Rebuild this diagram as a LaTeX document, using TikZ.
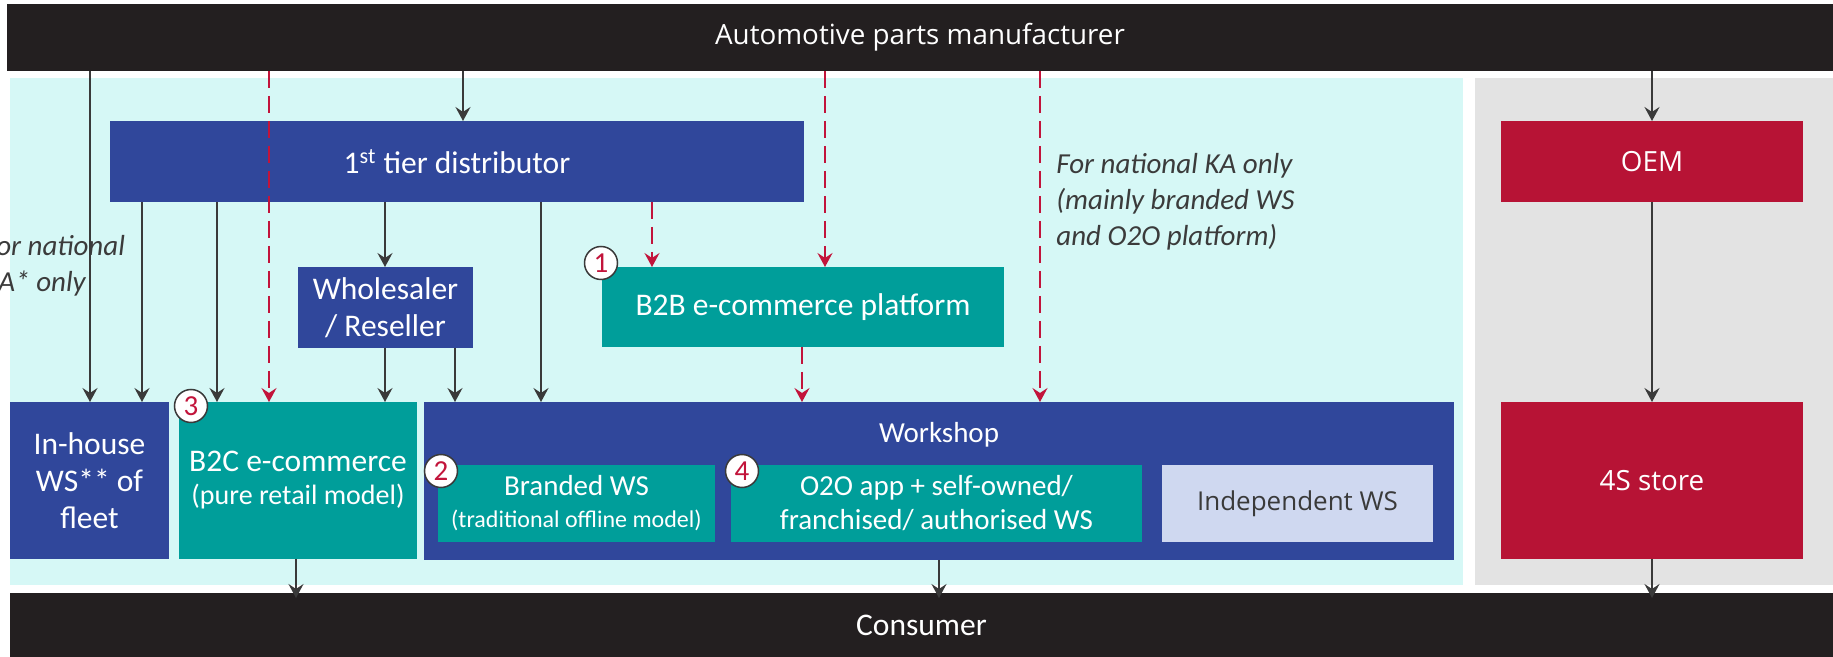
\documentclass[tikz,border=0pt]{standalone}
\usepackage{fontspec}
\setmainfont{Carlito}
\newfontfamily\segoe{Open Sans}
\usetikzlibrary{arrows.meta}
\definecolor{barblack}{HTML}{231F20}
\definecolor{cyanbg}{HTML}{D6F8F6}
\definecolor{greybg}{HTML}{E3E3E3}
\definecolor{boxblue}{HTML}{30479B}
\definecolor{boxteal}{HTML}{009E9A}
\definecolor{boxred}{HTML}{B71335}
\definecolor{boxlav}{HTML}{CFD8F0}
\definecolor{arrgrey}{HTML}{3A3A3A}
\definecolor{dashred}{HTML}{C2143B}
\definecolor{notegrey}{HTML}{3B3B3B}
\newcommand\fbig{\fontsize{15.75pt}{18.5pt}\selectfont}
\newcommand\fmid{\fontsize{14.5pt}{17pt}\selectfont}
\newcommand\fsmall{\fontsize{12pt}{14pt}\selectfont}
\newcommand\fseg{\segoe\fontsize{13.9pt}{16pt}\selectfont}
\begin{document}
\begin{tikzpicture}[x=0.5pt,y=-0.5pt,
  box/.style={inner sep=0pt, outer sep=0pt, align=center, text=white},
  bluebox/.style={box, fill=boxblue},
  tealbox/.style={box, fill=boxteal},
  redbox/.style={box, fill=boxred, font=\fseg},
  barbox/.style={box, fill=barblack},
  numcirc/.style={circle, draw=arrgrey, line width=0.75pt, fill=white, minimum size=16.5pt, inner sep=0pt, text=dashred, font=\fmid},
  note/.style={inner sep=0pt, align=left, text=notegrey, font=\fontsize{14.5pt}{18pt}\selectfont\itshape},
  arr/.style={draw=arrgrey, line width=1.25pt, -{Stealth[length=7pt,width=7.5pt,inset=2.5pt]}},
  rarr/.style={draw=dashred, line width=1.25pt, dash pattern=on 8.5pt off 4pt, -{Stealth[length=7pt,width=7.5pt,inset=2.5pt]}}
]
\useasboundingbox (0,0) rectangle (1833,657);
\fill[white] (0,0) rectangle (1833,657);
% panels
\fill[cyanbg] (10,78) rectangle (1463,585);
\fill[greybg] (1475,78) rectangle (1833,585);
% bars
\node[barbox, minimum width=913pt, minimum height=33.5pt, font=\fseg] (top) at (920,37.5) {Automotive parts manufacturer};
\node[barbox, minimum width=911.5pt, minimum height=32pt, font=\fbig] (cons) at (921.5,625) {Consumer};
% notes
\node[note, anchor=west] (noteL) at (-17,266) {For national\\KA* only};
\node[note, anchor=west] (noteR) at (1056,202) {For national KA only\\(mainly branded WS\\and O2O platform)};
% boxes
\node[bluebox, minimum width=347pt, minimum height=40.5pt, font=\fbig] (dist) at (457,161.5) {1\textsuperscript{st} tier distributor};
\node[bluebox, minimum width=87.5pt, minimum height=40.5pt, font=\fbig] (whole) at (385.5,307.5) {Wholesaler\\/ Reseller};
\node[tealbox, minimum width=201pt, minimum height=40pt, font=\fbig] (b2b) at (803,307) {B2B e-commerce platform};
\node[bluebox, minimum width=79.5pt, minimum height=78.5pt, font=\fbig] (inh) at (89.5,480.5) {In-house\\WS** of\\fleet};
\node[tealbox, minimum width=119pt, minimum height=78.5pt] (b2c) at (298,480.5) {{\fbig B2C e-commerce}\\[4.5pt]{\fontsize{14pt}{17pt}\selectfont (pure retail model)}};
\node[bluebox, minimum width=515pt, minimum height=79pt] (ws) at (939,481) {};
\node[text=white, font=\fmid, inner sep=0pt] (wslab) at (939,435) {Workshop};
\node[tealbox, minimum width=138.5pt, minimum height=38.5pt] (brand) at (576.5,503.5) {{\fmid Branded WS}\\[4pt]{\fsmall (traditional offline model)}};
\node[tealbox, minimum width=205.5pt, minimum height=38.5pt, font=\fmid] (o2o) at (936.5,503.5) {O2O app + self-owned/\\franchised/ authorised WS};
\node[box, fill=boxlav, text=arrgrey, minimum width=135.5pt, minimum height=38.5pt, font=\segoe\fontsize{13pt}{15pt}\selectfont] (indep) at (1297.5,503.5) {Independent WS};
\node[redbox, minimum width=151pt, minimum height=40.5pt] (oem) at (1652,161.5) {OEM};
\node[redbox, minimum width=151pt, minimum height=78.5pt] (fours) at (1652,480.5) {4S store};
% x positions
\coordinate (xa) at (90,0);
\coordinate (xb) at (142,0);
\coordinate (xc) at (217,0);
\coordinate (xd) at (269,0);
\coordinate (xe) at (385,0);
\coordinate (xf) at (455,0);
\coordinate (xg) at (463,0);
\coordinate (xh) at (541,0);
\coordinate (xi) at (652,0);
\coordinate (xj) at (825,0);
\coordinate (xk) at (802,0);
\coordinate (xl) at (1040,0);
\coordinate (xm) at (1652,0);
\coordinate (xn) at (296,0);
\coordinate (xo) at (939,0);
% solid arrows
\draw[arr] (xa |- top.south) -- (xa |- inh.north);
\draw[arr] (xb |- dist.south) -- (xb |- inh.north);
\draw[arr] (xc |- dist.south) -- (xc |- b2c.north);
\draw[arr] (xg |- top.south) -- (xg |- dist.north);
\draw[arr] (xe |- dist.south) -- (xe |- whole.north);
\draw[arr] (xe |- whole.south) -- (xe |- b2c.north);
\draw[arr] (xf |- whole.south) -- (xf |- ws.north);
\draw[arr] (xh |- dist.south) -- (xh |- ws.north);
\draw[arr] (xm |- top.south) -- (xm |- oem.north);
\draw[arr] (xm |- oem.south) -- (xm |- fours.north);
\draw[arr, shorten >=-2.5pt] (xm |- fours.south) -- (xm |- cons.north);
\draw[arr, shorten >=-2.5pt] (xn |- b2c.south) -- (xn |- cons.north);
\draw[arr, shorten >=-2.5pt] (xo |- ws.south) -- (xo |- cons.north);
% dashed arrows
\draw[rarr] (xd |- top.south) -- (xd |- b2c.north);
\draw[rarr] (xi |- dist.south) -- (xi |- b2b.north);
\draw[rarr] (xj |- top.south) -- (xj |- b2b.north);
\draw[rarr] (xk |- b2b.south) -- (xk |- ws.north);
\draw[rarr] (xl |- top.south) -- (xl |- ws.north);
% number circles
\node[numcirc] (n1) at (601,263) {1};
\node[numcirc] (n2) at (441,471) {2};
\node[numcirc] (n3) at (191,406) {3};
\node[numcirc] (n4) at (742,471) {4};
\end{tikzpicture}
\end{document}
